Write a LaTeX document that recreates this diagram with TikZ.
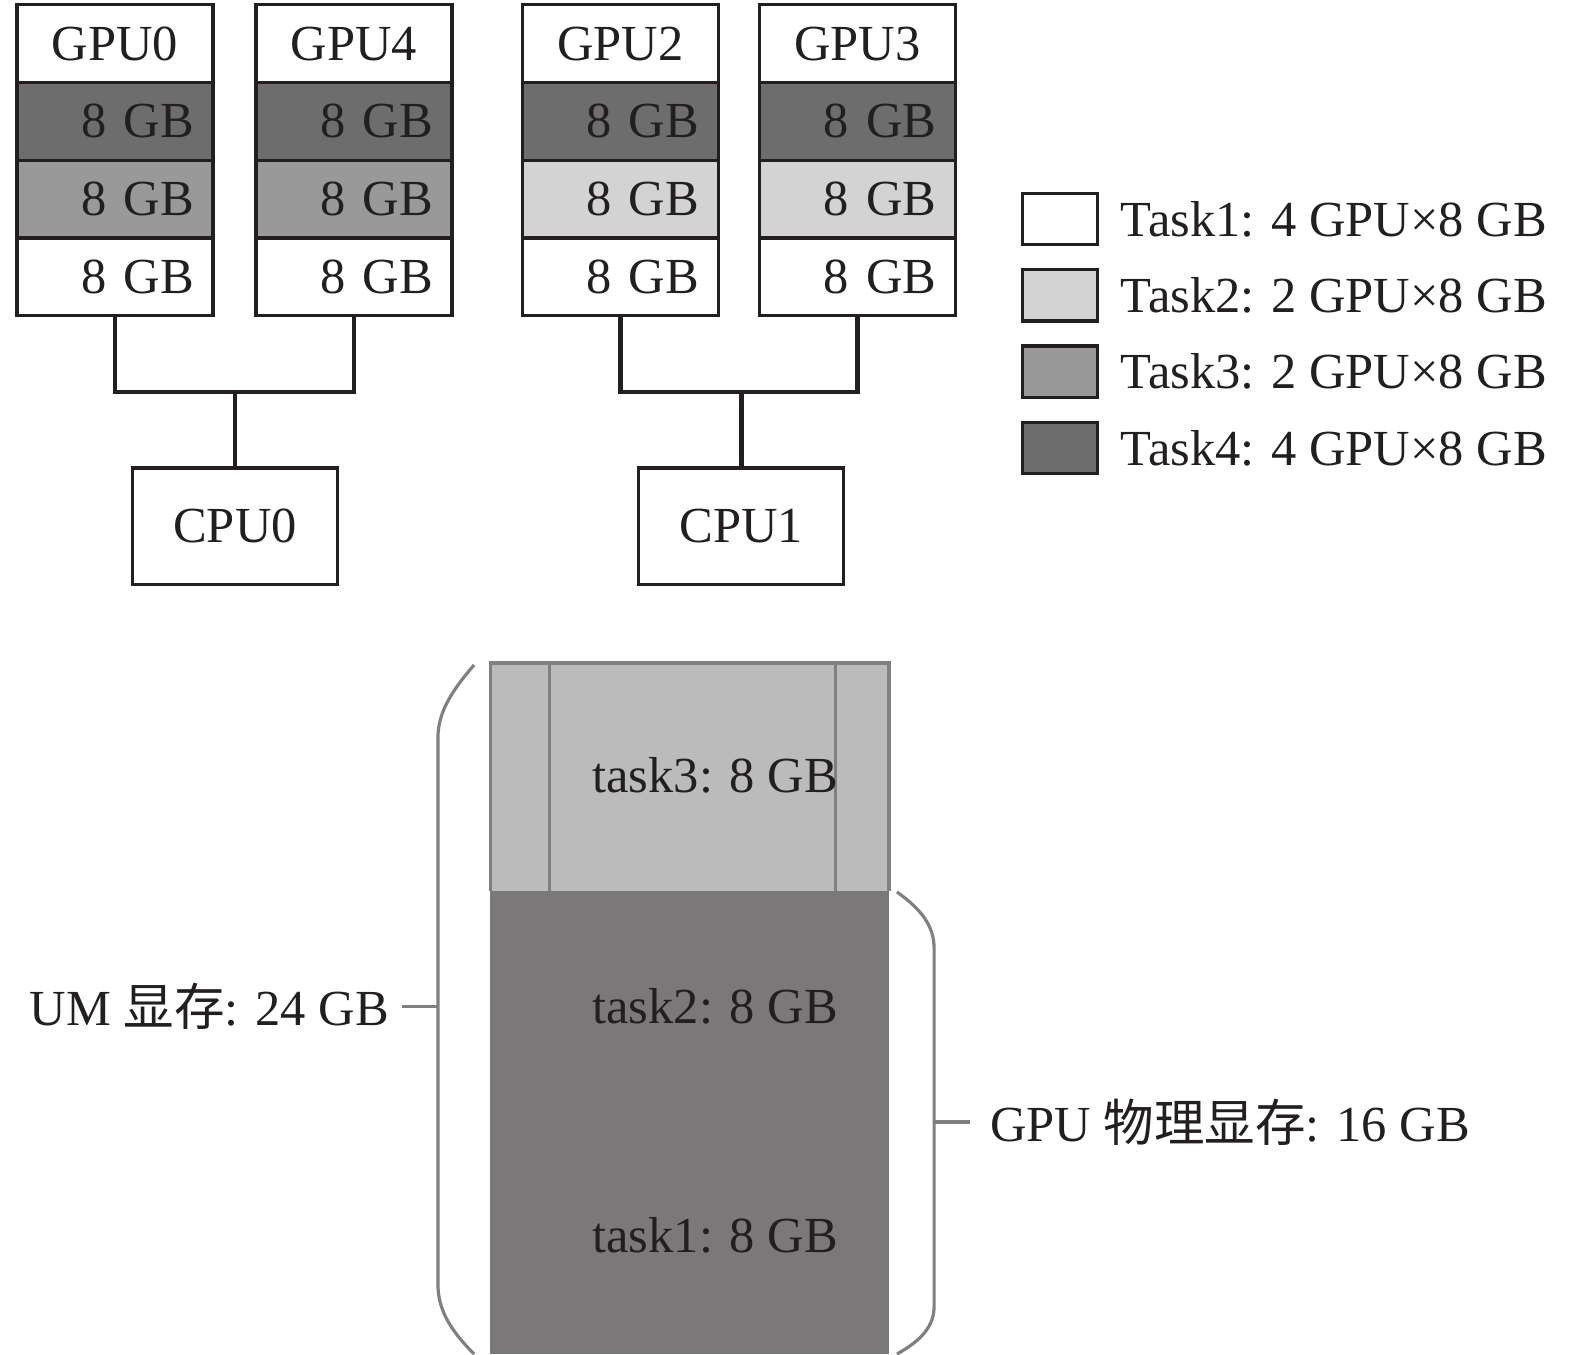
\documentclass[tikz,border=0pt]{standalone}
\usepackage{fontspec}
\setmainfont{Liberation Serif}
\newfontfamily\cjk{Noto Sans CJK SC}
\usetikzlibrary{positioning}
\definecolor{ink}{HTML}{231F20}
\definecolor{tasktwo}{HTML}{D3D3D3}
\definecolor{taskthree}{HTML}{999999}
\definecolor{taskfour}{HTML}{6E6D6E}
\definecolor{umlight}{HTML}{BBBBBB}
\definecolor{umdark}{HTML}{7A7879}
\definecolor{umline}{HTML}{808080}
\tikzset{
  txt/.style={font=\fontsize{14.3}{17}\selectfont, text=ink},
  box/.style={txt, draw=ink, line width=0.9pt, inner sep=0pt, outer sep=0pt},
  gpuhead/.style={box, fill=white, minimum width=1.95cm, minimum height=0.773cm},
  memcell/.style={gpuhead, text width=1.57cm, align=right},
  cpubox/.style={box, minimum width=2.04cm, minimum height=1.16cm},
  legbox/.style={box, minimum width=0.75cm, minimum height=0.51cm},
  link/.style={draw=ink, line width=1.3pt},
  brace/.style={draw=umline, line width=0.9pt},
}
\begin{document}
\begin{tikzpicture}[x=0.01cm,y=-0.01cm]
\useasboundingbox (0,0) rectangle (1568,1348);
% GPU memory columns
\foreach \g/\cx/\cb in {0/114.5/taskthree, 4/352.5/taskthree, 2/617.5/tasktwo, 3/853.5/tasktwo} {
  \node[gpuhead] (gpu\g) at (\cx,43.5) {GPU\g};
  \node[memcell, fill=taskfour, below=0pt of gpu\g] (gpu\g-a) {8 GB};
  \node[memcell, fill=\cb, below=0pt of gpu\g-a] (gpu\g-b) {8 GB};
  \node[memcell, below=0pt of gpu\g-b] (gpu\g-c) {8 GB};
}
% CPUs
\node[cpubox] (cpu0) at (234,524) {CPU0};
\node[cpubox] (cpu1) at (738,524) {CPU1};
\draw[link] (gpu0-c.south) -- ++(0,76) -| (gpu4-c.south);
\draw[link] (cpu0.north) -- ++(0,-76);
\draw[link] (gpu2-c.south) -- ++(0,76) -| (gpu3-c.south);
\draw[link] (cpu1.north) -- ++(0,-76);
% legend
\foreach \i/\c/\n in {1/white/4, 2/tasktwo/2, 3/taskthree/2, 4/taskfour/4} {
  \node[legbox, fill=\c] (leg\i) at (1055.5,{218+76*(\i-1)}) {};
  \node[txt, inner sep=0pt, right=0.22cm of leg\i] (legtxt\i) {Task\i: \n\ GPU×8 GB};
}
% unified memory
\fill[umlight] (488,660) rectangle (885,887);
\fill[umdark] (488,887) rectangle (885,1348);
\draw[brace] (488,887) -- (488,660) -- (885,660) -- (885,887);
\draw[brace] (547,660) -- (547,887);
\draw[brace] (832,660) -- (832,887);
\node[txt] (um3) at (712,772) {task3: 8 GB};
\node[txt] (um2) at (712,1002) {task2: 8 GB};
\node[txt] (um1) at (712,1230) {task1: 8 GB};
\draw[brace] (472,662) .. controls (446,692) and (436,712) .. (436,735)
  -- (436,1278) .. controls (436,1302) and (446,1322) .. (472,1348);
\coordinate (umtick) at (436,1002);
\node[txt, inner sep=0pt, anchor=east] (umlabel) at (388,1002) {UM {\cjk 显存}: 24 GB};
\draw[brace] (umtick) -- ++(-36,0);
\draw[brace] (893,888) .. controls (918,906) and (930,922) .. (930,945)
  -- (930,1300) .. controls (930,1320) and (918,1334) .. (893,1348);
\coordinate (gputick) at (930,1117);
\node[txt, inner sep=0pt, anchor=west] (gpulabel) at (985,1117) {GPU {\cjk 物理显存}: 16 GB};
\draw[brace] (gputick) -- ++(36,0);
\end{tikzpicture}
\end{document}
